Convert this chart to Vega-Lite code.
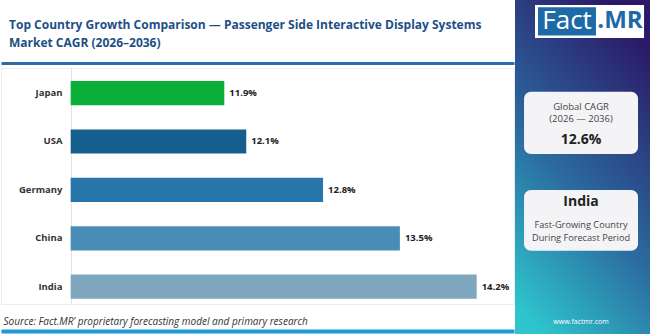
{
  "$schema": "https://vega.github.io/schema/vega-lite/v6.json",
  "background": "white",
  "padding": 0,
  "spacing": 0,
  "config": {"font": "Open Sans", "concat": {"spacing": 0}},
  "hconcat": [
    {
      "spacing": 0,
      "vconcat": [
        {
          "width": 513,
          "height": 62,
          "view": {"stroke": null},
          "data": {"values": [{"line": "Top Country Growth Comparison — Passenger Side Interactive Display Systems"}, {"line": "Market CAGR (2026–2036)"}]},
          "layer": [
            {
              "transform": [{"filter": "datum.line != 'Market CAGR (2026–2036)'"}],
              "mark": {"type": "text", "align": "left", "baseline": "alphabetic", "fontSize": 12, "fontWeight": "bold", "color": "#1D4F86"},
              "encoding": {
                "x": {"datum": 1.56, "type": "quantitative", "scale": {"domain": [0, 100], "nice": false, "zero": false}, "axis": null},
                "y": {"datum": 46.5, "type": "quantitative", "scale": {"domain": [0, 100], "nice": false, "zero": false, "reverse": true}, "axis": null},
                "text": {"field": "line"}
              }
            },
            {
              "transform": [{"filter": "datum.line == 'Market CAGR (2026–2036)'"}],
              "mark": {"type": "text", "align": "left", "baseline": "alphabetic", "fontSize": 12, "fontWeight": "bold", "color": "#1D4F86"},
              "encoding": {
                "x": {"datum": 1.56, "type": "quantitative"},
                "y": {"datum": 75.5, "type": "quantitative"},
                "text": {"field": "line"}
              }
            }
          ]
        },
        {
          "width": 513,
          "height": 236,
          "view": {"stroke": "#E8EDF1"},
          "data": {
            "values": [
              {"country": "Japan", "cagr": 11.9, "label": "11.9%"},
              {"country": "USA", "cagr": 12.1, "label": "12.1%"},
              {"country": "Germany", "cagr": 12.8, "label": "12.8%"},
              {"country": "China", "cagr": 13.5, "label": "13.5%"},
              {"country": "India", "cagr": 14.2, "label": "14.2%"}
            ]
          },
          "encoding": {
            "y": {
              "field": "country",
              "type": "nominal",
              "sort": ["Japan", "USA", "Germany", "China", "India"],
              "scale": {"paddingInner": 0.5, "paddingOuter": 0.188, "align": 0.714},
              "axis": {
                "title": null,
                "offset": -70,
                "ticks": false,
                "labelPadding": 9,
                "labelFontSize": 9.5,
                "labelFontWeight": "bold",
                "labelColor": "#333333",
                "domainColor": "#E2E2E2"
              }
            }
          },
          "layer": [
            {
              "mark": {"type": "bar"},
              "encoding": {
                "x": {
                  "field": "cagr",
                  "type": "quantitative",
                  "scale": {"domain": [9.865, 14.54], "zero": false, "nice": false},
                  "axis": {
                    "orient": "top",
                    "title": null,
                    "labels": false,
                    "ticks": false,
                    "grid": false,
                    "domainColor": "#2C6FA8",
                    "domainWidth": 3,
                    "offset": 5
                  }
                },
                "x2": {"datum": 10.5},
                "color": {
                  "field": "country",
                  "type": "nominal",
                  "scale": {
                    "domain": ["Japan", "USA", "Germany", "China", "India"],
                    "range": ["#0AAF3A", "#145F8E", "#2777AC", "#4A8CB8", "#80A7C0"]
                  },
                  "legend": null
                }
              }
            },
            {
              "mark": {"type": "text", "align": "left", "baseline": "middle", "dx": 5, "fontSize": 9.5, "fontWeight": "bold", "color": "#222222"},
              "encoding": {
                "x": {
                  "field": "cagr",
                  "type": "quantitative",
                  "axis": {
                    "orient": "bottom",
                    "title": "Source: Fact.MR’ proprietary forecasting model and primary research",
                    "labels": false,
                    "ticks": false,
                    "grid": false,
                    "domainColor": "#1E9AD6",
                    "domainWidth": 4,
                    "offset": 27,
                    "titleAnchor": "start",
                    "titleAlign": "left",
                    "titleX": 2,
                    "titleY": -7,
                    "titleBaseline": "alphabetic",
                    "titleFontStyle": "italic",
                    "titleFontWeight": "normal",
                    "titleFontSize": 10,
                    "titleColor": "#333333"
                  }
                },
                "text": {"field": "label"}
              }
            }
          ],
          "resolve": {"axis": {"x": "independent"}}
        }
      ]
    },
    {
      "width": 137,
      "height": 334,
      "view": {"stroke": null},
      "data": {"values": [{}]},
      "layer": [
        {
          "mark": {
            "type": "rect",
            "fill": {
              "gradient": "linear",
              "x1": 0.2, "y1": 1, "x2": 0.65, "y2": 0,
              "stops": [
                {"offset": 0, "color": "#2EC4CC"},
                {"offset": 0.45, "color": "#2B6A9F"},
                {"offset": 1, "color": "#2B1A68"}
              ]
            }
          },
          "encoding": {
            "x": {"datum": 0, "type": "quantitative", "scale": {"domain": [0, 100], "nice": false, "zero": false}, "axis": null},
            "x2": {"datum": 100},
            "y": {"datum": 0, "type": "quantitative", "scale": {"domain": [0, 100], "nice": false, "zero": false, "reverse": true}, "axis": null},
            "y2": {"datum": 100}
          }
        },
        {
          "mark": {"type": "rect", "fill": "#FFFFFF"},
          "encoding": {
            "x": {"datum": 14.6, "type": "quantitative"},
            "x2": {"datum": 94.2},
            "y": {"datum": 1.5, "type": "quantitative"},
            "y2": {"datum": 11.4}
          }
        },
        {
          "mark": {"type": "rect", "fill": "#1C6AA8"},
          "encoding": {
            "x": {"datum": 16.8, "type": "quantitative"},
            "x2": {"datum": 59.1},
            "y": {"datum": 2.2, "type": "quantitative"},
            "y2": {"datum": 10.6}
          }
        },
        {
          "mark": {"type": "text", "align": "center", "baseline": "middle", "fontSize": 26, "color": "#FFFFFF"},
          "encoding": {
            "x": {"datum": 38, "type": "quantitative"},
            "y": {"datum": 6.4, "type": "quantitative"},
            "text": {"value": "Fact"}
          }
        },
        {
          "mark": {"type": "text", "align": "center", "baseline": "middle", "fontSize": 24, "fontWeight": "bold", "color": "#1C6AA8"},
          "encoding": {
            "x": {"datum": 76.6, "type": "quantitative"},
            "y": {"datum": 6.4, "type": "quantitative"},
            "text": {"value": ".MR"}
          }
        },
        {
          "mark": {"type": "rect", "fill": "#F4F4F6", "cornerRadius": 7},
          "encoding": {
            "x": {"datum": 6.6, "type": "quantitative"},
            "x2": {"datum": 89.8},
            "y": {"datum": 27.5, "type": "quantitative"},
            "y2": {"datum": 46.1}
          }
        },
        {
          "mark": {"type": "text", "align": "center", "baseline": "middle", "fontSize": 9.5, "color": "#444444"},
          "encoding": {
            "x": {"datum": 48.2, "type": "quantitative"},
            "y": {"datum": 32.0, "type": "quantitative"},
            "text": {"value": "Global CAGR"}
          }
        },
        {
          "mark": {"type": "text", "align": "center", "baseline": "middle", "fontSize": 9.5, "color": "#444444"},
          "encoding": {
            "x": {"datum": 48.2, "type": "quantitative"},
            "y": {"datum": 35.6, "type": "quantitative"},
            "text": {"value": "(2026 — 2036)"}
          }
        },
        {
          "mark": {"type": "text", "align": "center", "baseline": "middle", "fontSize": 14, "fontWeight": "bold", "color": "#222222"},
          "encoding": {
            "x": {"datum": 48.2, "type": "quantitative"},
            "y": {"datum": 41.9, "type": "quantitative"},
            "text": {"value": "12.6%"}
          }
        },
        {
          "mark": {"type": "rect", "fill": "#F4F4F6", "cornerRadius": 7},
          "encoding": {
            "x": {"datum": 6.6, "type": "quantitative"},
            "x2": {"datum": 89.8},
            "y": {"datum": 56.9, "type": "quantitative"},
            "y2": {"datum": 75.1}
          }
        },
        {
          "mark": {"type": "text", "align": "center", "baseline": "middle", "fontSize": 14, "fontWeight": "bold", "color": "#222222"},
          "encoding": {
            "x": {"datum": 48.2, "type": "quantitative"},
            "y": {"datum": 60.5, "type": "quantitative"},
            "text": {"value": "India"}
          }
        },
        {
          "mark": {"type": "text", "align": "center", "baseline": "middle", "fontSize": 9.2, "color": "#444444"},
          "encoding": {
            "x": {"datum": 48.2, "type": "quantitative"},
            "y": {"datum": 67.4, "type": "quantitative"},
            "text": {"value": "Fast-Growing Country"}
          }
        },
        {
          "mark": {"type": "text", "align": "center", "baseline": "middle", "fontSize": 9.2, "color": "#444444"},
          "encoding": {
            "x": {"datum": 48.2, "type": "quantitative"},
            "y": {"datum": 71.3, "type": "quantitative"},
            "text": {"value": "During Forecast Period"}
          }
        },
        {
          "mark": {"type": "text", "align": "center", "baseline": "middle", "fontSize": 7, "color": "#FFFFFF"},
          "encoding": {
            "x": {"datum": 48.2, "type": "quantitative"},
            "y": {"datum": 96.3, "type": "quantitative"},
            "text": {"value": "www.factmr.com"}
          }
        }
      ]
    }
  ]
}
